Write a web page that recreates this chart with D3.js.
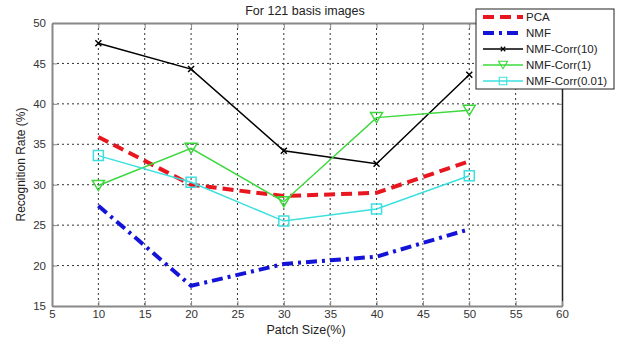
<!DOCTYPE html>
<html>
<head>
<meta charset="utf-8">
<script src="https://cdnjs.cloudflare.com/ajax/libs/d3/7.8.5/d3.min.js"></script>
<style>
body{margin:0;background:#fff}
text{font-family:"Liberation Sans",Arial,sans-serif}
</style>
</head>
<body>
<div class="chart"></div>
<script>
const patchSizes=[10,20,30,40,50]
const pca=[35.9,30.0,28.6,29.0,32.9]
const nmf=[27.4,17.5,20.2,21.1,24.5]
const corr10=[47.5,44.3,34.2,32.6,43.6]
const corr1=[29.9,34.5,27.9,38.3,39.2]
const corr001=[33.6,30.3,25.5,27.0,31.1]
const xTicks=[5,10,15,20,25,30,35,40,45,50,55,60]
const yTicks=[15,20,25,30,35,40,45,50]

const series=[
	{name:'PCA',values:pca,color:'#e8161e',width:4,dash:'11,6',marker:null},
	{name:'NMF',values:nmf,color:'#1414d8',width:4,dash:'11,5,3,5',marker:null},
	{name:'NMF-Corr(10)',values:corr10,color:'#000',width:1.5,dash:null,marker:'x'},
	{name:'NMF-Corr(1)',values:corr1,color:'#3cd83c',width:1.5,dash:null,marker:'tri'},
	{name:'NMF-Corr(0.01)',values:corr001,color:'#3ce0e0',width:1.5,dash:null,marker:'sq'}
]

const margin={top:23,right:60,bottom:32,left:52}
const width=622-margin.left-margin.right,
	height=338-margin.top-margin.bottom

const root=d3.select('.chart').append('svg')
	.attr('width',622)
	.attr('height',338)
const svg=root.append('g')
	.attr('transform','translate('+margin.left+','+margin.top+')')

const xScale=d3.scaleLinear().domain([5,60]).range([0,width])
const yScale=d3.scaleLinear().domain([15,50]).range([height,0])

// dotted grid
svg.append('g').attr('class','vgrid')
	.selectAll('line')
	.data(xTicks.slice(1,-1))
	.join('line')
	.attr('x1',d=>xScale(d)).attr('x2',d=>xScale(d))
	.attr('y1',0).attr('y2',height)
	.style('stroke','#333')
	.style('stroke-width','1px')
	.style('stroke-dasharray','2 3')
svg.append('g').attr('class','hgrid')
	.selectAll('line')
	.data(yTicks.slice(1,-1))
	.join('line')
	.attr('x1',0).attr('x2',width)
	.attr('y1',d=>yScale(d)).attr('y2',d=>yScale(d))
	.style('stroke','#333')
	.style('stroke-width','1px')
	.style('stroke-dasharray','2 3')

// axes
const xAxis=d3.axisBottom(xScale).tickValues(xTicks).tickSizeInner(-5).tickSizeOuter(0).tickPadding(4)
const yAxis=d3.axisLeft(yScale).tickValues(yTicks).tickSizeInner(-5).tickSizeOuter(0).tickPadding(6)
const xTop=d3.axisTop(xScale).tickValues(xTicks).tickSizeInner(-5).tickSizeOuter(0).tickFormat('')
const yRight=d3.axisRight(yScale).tickValues(yTicks).tickSizeInner(-5).tickSizeOuter(0).tickFormat('')

svg.append('g').attr('class','x-top').call(xTop)
svg.append('g').attr('class','y-right').attr('transform',`translate(${width},0)`).call(yRight)
svg.append('g').attr('class','x-axis').attr('transform',`translate(0,${height})`).call(xAxis)
svg.append('g').attr('class','y-axis').call(yAxis)

svg.selectAll('.domain').attr('stroke','#888').attr('stroke-width',2)
svg.selectAll('.y-right .domain').attr('stroke','#222').attr('stroke-width',1.5)
svg.selectAll('.tick line').attr('stroke','#888')
svg.selectAll('.tick text').attr('fill','#333').style('font-size','11.5px')

// lines and markers
const line=d3.line()
	.x((d,i)=>xScale(patchSizes[i]))
	.y(d=>yScale(d))

function markerPath(m){
	if(m==='x') return 'M-3,-3L3,3M-3,3L3,-3'
	if(m==='tri') return 'M-6,-5L6,-5L0,5Z'
	if(m==='sq') return 'M-5,-5L5,-5L5,5L-5,5Z'
	return ''
}

series.forEach(s=>{
	svg.append('path')
		.datum(s.values)
		.attr('d',line)
		.attr('fill','none')
		.attr('stroke',s.color)
		.attr('stroke-width',s.width)
		.attr('stroke-dasharray',s.dash)
	svg.append('g')
		.selectAll('path')
		.data(s.values)
		.join('path')
		.attr('transform',(d,i)=>`translate(${xScale(patchSizes[i])},${yScale(d)})`)
		.attr('d',markerPath(s.marker))
		.attr('fill','none')
		.attr('stroke',s.color)
		.attr('stroke-width',1.5)
})

// titles
root.append('text')
	.attr('x',305)
	.attr('y',15)
	.style('text-anchor','middle')
	.style('font-size','12.5px')
	.attr('fill','#222')
	.text('For 121 basis images')

root.append('text')
	.attr('x',306)
	.attr('y',334)
	.style('text-anchor','middle')
	.style('font-size','12.5px')
	.attr('fill','#222')
	.text('Patch Size(%)')

root.append('text')
	.attr('transform',`translate(25,${margin.top+height/2}) rotate(-90)`)
	.style('text-anchor','middle')
	.style('font-size','12px')
	.attr('fill','#222')
	.text('Recognition Rate (%)')

// legend
const legend=root.append('g').attr('transform','translate(476,9)')
legend.append('rect')
	.attr('width',138).attr('height',80)
	.attr('fill','#fff').attr('stroke','#222').attr('stroke-width',1)
series.forEach((s,i)=>{
	const y=8+i*16
	legend.append('line')
		.attr('x1',7).attr('x2',47)
		.attr('y1',y).attr('y2',y)
		.attr('stroke',s.color)
		.attr('stroke-width',s.width)
		.attr('stroke-dasharray',s.dash)
	legend.append('path')
		.attr('transform',`translate(27,${y}) scale(0.75)`)
		.attr('d',markerPath(s.marker))
		.attr('fill','none')
		.attr('stroke',s.color)
		.attr('stroke-width',1.5)
	legend.append('text')
		.attr('x',50).attr('y',y+4)
		.style('font-size','11.5px')
		.attr('fill','#222')
		.text(s.name)
})
</script>
</body>
</html>
